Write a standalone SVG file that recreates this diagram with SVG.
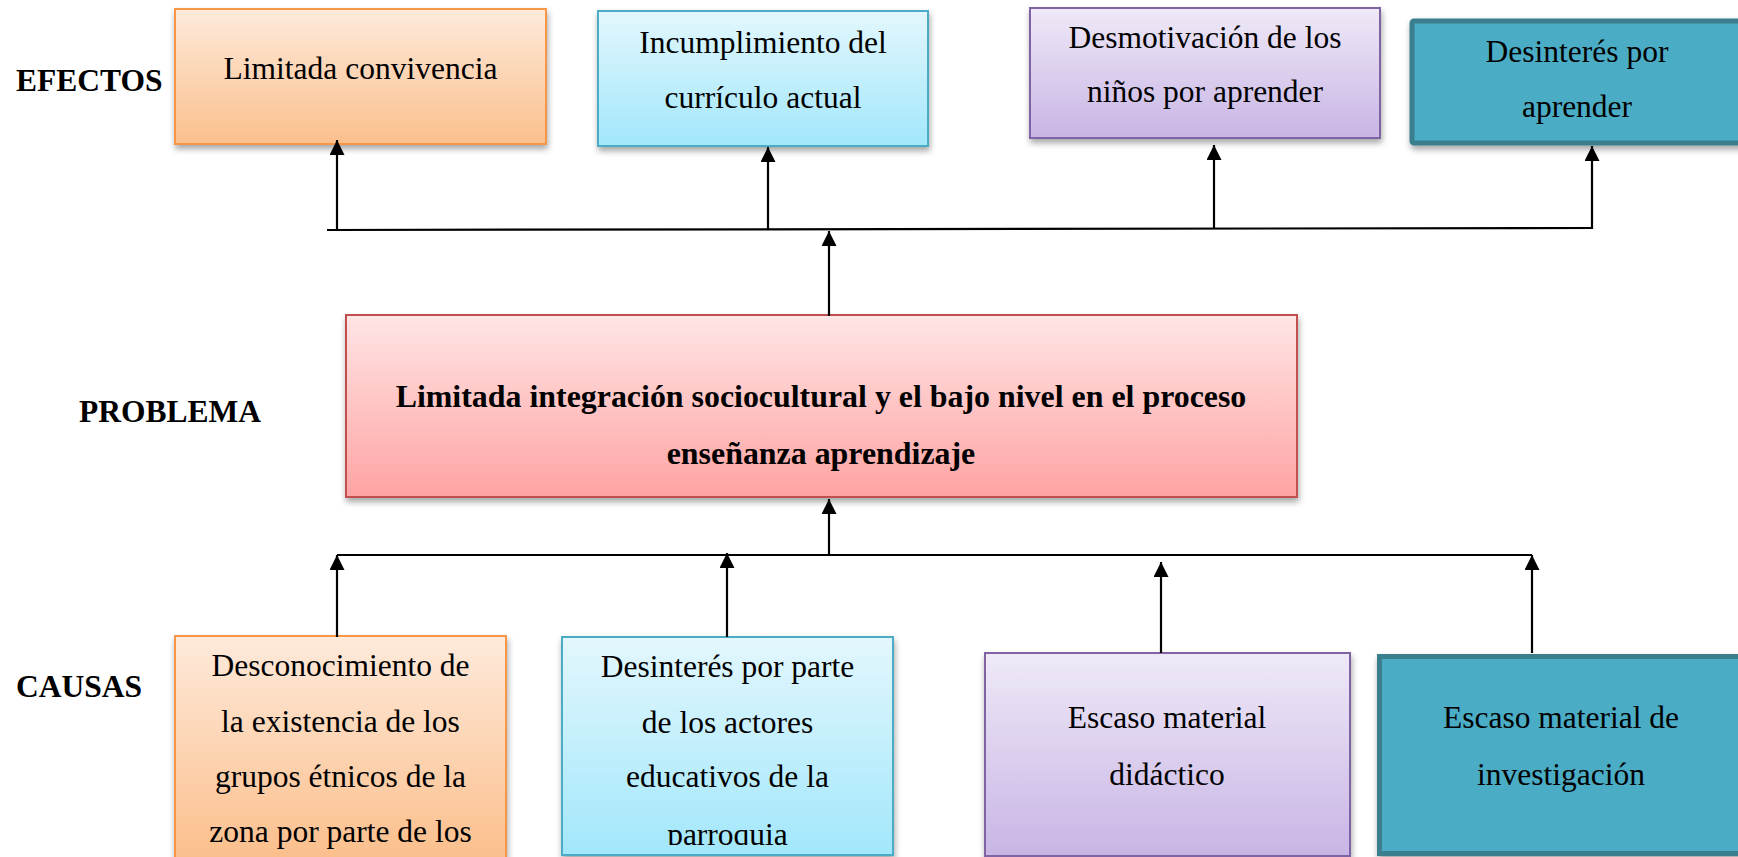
<svg xmlns="http://www.w3.org/2000/svg" width="1738" height="857" viewBox="0 0 1738 857">
<style>
  .t { font-family: "Liberation Serif", "Times New Roman", serif; font-size: 31.5px; fill: #000; text-anchor: middle; }
  .b { font-weight: bold; font-size: 31.9px; }
  .lbl { font-family: "Liberation Serif", "Times New Roman", serif; font-size: 31.5px; font-weight: bold; fill: #000; }
  .conn path { fill: none; stroke: #000; stroke-width: 2.2; }
  .arr { marker-end: url(#ah); }
</style>
<defs>
  <marker id="ah" viewBox="0 0 15 15" refX="15" refY="7.5" markerWidth="15" markerHeight="15" markerUnits="userSpaceOnUse" orient="auto">
    <path d="M0,0 L15,7.5 L0,15 z" fill="#000"/>
  </marker>
  <filter id="sh" x="-5%" y="-5%" width="112%" height="125%">
    <feDropShadow dx="1" dy="4" stdDeviation="3" flood-color="#000" flood-opacity="0.35"/>
  </filter>
  <linearGradient id="gOr" x1="0" y1="0" x2="0" y2="1">
    <stop offset="0" stop-color="#FEEADB"/>
    <stop offset="1" stop-color="#FBBF8C"/>
  </linearGradient>
  <linearGradient id="gBl" x1="0" y1="0" x2="0" y2="1">
    <stop offset="0" stop-color="#E3F7FD"/>
    <stop offset="1" stop-color="#A2E7FB"/>
  </linearGradient>
  <linearGradient id="gPu" x1="0" y1="0" x2="0" y2="1">
    <stop offset="0" stop-color="#EFE9F7"/>
    <stop offset="1" stop-color="#C8B5E5"/>
  </linearGradient>
  <linearGradient id="gRe" x1="0" y1="0" x2="0" y2="1">
    <stop offset="0" stop-color="#FFE5E5"/>
    <stop offset="1" stop-color="#FFA3A3"/>
  </linearGradient>
  <clipPath id="clip6"><rect x="562" y="637" width="331" height="208"/></clipPath>
</defs>
<rect width="1738" height="857" fill="#fff"/>

<text class="lbl" x="16" y="91">EFECTOS</text>
<text class="lbl" x="79" y="422">PROBLEMA</text>
<text class="lbl" x="16" y="697">CAUSAS</text>

<g id="e1">
  <rect x="175" y="9" width="371" height="135" fill="url(#gOr)" stroke="#F79646" stroke-width="2" filter="url(#sh)"/>
  <text class="t" x="360.5" y="79">Limitada convivencia</text>
</g>
<g id="e2">
  <rect x="598" y="11" width="330" height="135" fill="url(#gBl)" stroke="#4BACC6" stroke-width="2" filter="url(#sh)"/>
  <text class="t" x="763" y="53">Incumplimiento del</text>
  <text class="t" x="763" y="108">currículo actual</text>
</g>
<g id="e3">
  <rect x="1030" y="8" width="350" height="130" fill="url(#gPu)" stroke="#8064A2" stroke-width="2" filter="url(#sh)"/>
  <text class="t" x="1205" y="48">Desmotivación de los</text>
  <text class="t" x="1205" y="102">niños por aprender</text>
</g>
<g id="e4">
  <rect x="1412" y="21" width="335" height="122" rx="2" fill="#4BACC6" stroke="#3A7F8F" stroke-width="5" filter="url(#sh)"/>
  <text class="t" x="1577" y="62">Desinterés por</text>
  <text class="t" x="1577" y="117">aprender</text>
</g>

<g id="problema">
  <rect x="346" y="315" width="951" height="182" fill="url(#gRe)" stroke="#C0504D" stroke-width="2" filter="url(#sh)"/>
  <text class="t b" x="821" y="407">Limitada integración sociocultural y el bajo nivel en el proceso</text>
  <text class="t b" x="821" y="464">enseñanza aprendizaje</text>
</g>

<g id="c1">
  <rect x="175" y="636" width="331" height="222" fill="url(#gOr)" stroke="#F79646" stroke-width="2" filter="url(#sh)"/>
  <text class="t" x="340.5" y="676">Desconocimiento de</text>
  <text class="t" x="340.5" y="732">la existencia de los</text>
  <text class="t" x="340.5" y="787">grupos étnicos de la</text>
  <text class="t" x="340.5" y="842">zona por parte de los</text>
</g>
<g id="c2">
  <rect x="562" y="637" width="331" height="218" fill="url(#gBl)" stroke="#4BACC6" stroke-width="2" filter="url(#sh)"/>
  <g clip-path="url(#clip6)">
    <text class="t" x="727.5" y="677">Desinterés por parte</text>
    <text class="t" x="727.5" y="733">de los actores</text>
    <text class="t" x="727.5" y="787">educativos de la</text>
    <text class="t" x="727.5" y="845">parroquia</text>
  </g>
</g>
<g id="c3">
  <rect x="985" y="653" width="365" height="203" fill="url(#gPu)" stroke="#8064A2" stroke-width="2" filter="url(#sh)"/>
  <text class="t" x="1167" y="728">Escaso material</text>
  <text class="t" x="1167" y="785">didáctico</text>
</g>
<g id="c4">
  <rect x="1379.5" y="656.5" width="368" height="197" fill="#4BACC6" stroke="#3A7F8F" stroke-width="5" filter="url(#sh)"/>
  <text class="t" x="1561" y="728">Escaso material de</text>
  <text class="t" x="1561" y="785">investigación</text>
</g>

<g class="conn" id="connectors">
  <path d="M327,230 L1592,228"/>
  <path class="arr" d="M337,230 V140"/>
  <path class="arr" d="M768,230 V147"/>
  <path class="arr" d="M1214,229 V145"/>
  <path class="arr" d="M1592,229 V146"/>
  <path class="arr" d="M829,316 V231"/>
  <path class="arr" d="M829,556 V499"/>
  <path d="M337,555 H1532"/>
  <path class="arr" d="M337,637 V555"/>
  <path class="arr" d="M727,637 V553"/>
  <path class="arr" d="M1161,653 V562"/>
  <path class="arr" d="M1532,653 V555"/>
</g>
</svg>
